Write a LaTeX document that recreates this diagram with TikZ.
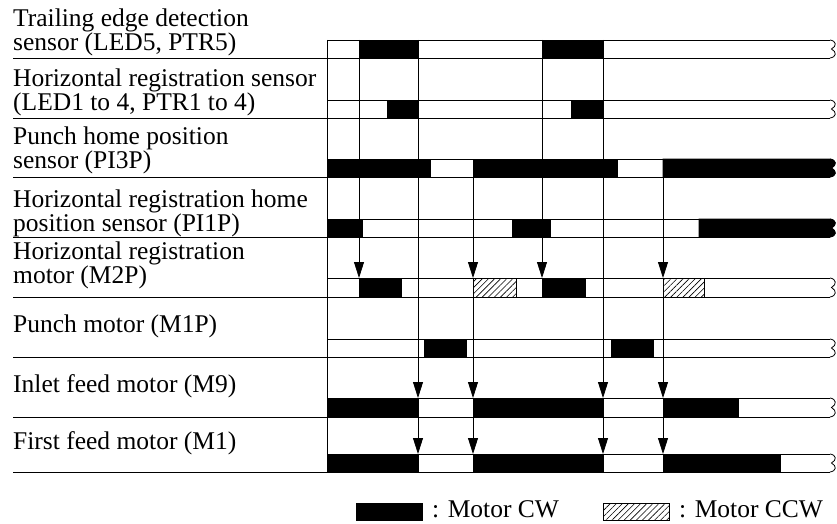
\documentclass[tikz,border=0pt]{standalone}
\usepackage{fontspec}
\setmainfont{Liberation Serif}
\usetikzlibrary{arrows.meta, patterns.meta}

% break mark at the right end of a band (top, bottom)
\newcommand{\bandbreak}[2]{(830,#1) .. controls (836.5,#1+1) and (837,{(#1+#2)/2-3}) .. (831.5,{(#1+#2)/2}) .. controls (837,{(#1+#2)/2+3}) and (836.5,#2-1) .. (830,#2)}

\tikzset{
    trace/.style={line width=0.8pt},
    cw/.style={fill=black, draw=black, line width=0.8pt},
    ccw/.style={draw=black, line width=0.8pt, pattern={Lines[angle=45, distance=4.3pt, line width=0.6pt]}},
    trig/.style={line width=0.8pt, -{Triangle[width=10pt, length=16pt]}},
    lbl/.style={anchor=south west, inner sep=0pt, text depth=0pt, align=left},
}

\begin{document}
\begin{tikzpicture}[x=1pt, y=-1pt, font=\fontsize{25.5}{24}\selectfont]
    \useasboundingbox (0,0) rectangle (837,524);

    % Signal names
    \node[lbl] (ledfive) at (13,50.5) {Trailing edge detection\\sensor (LED5, PTR5)};
    \node[lbl] (ledone) at (13,111) {Horizontal registration sensor\\(LED1 to 4, PTR1 to 4)};
    \node[lbl] (pithreep) at (13,168.5) {Punch home position\\sensor (PI3P)};
    \node[lbl] (pionep) at (13,231.5) {Horizontal registration home\\position sensor (PI1P)};
    \node[lbl] (mtwop) at (13,283.5) {Horizontal registration\\motor (M2P)};
    \node[lbl] (monep) at (13,333) {Punch motor (M1P)};
    \node[lbl] (mnine) at (13,392.5) {Inlet feed motor (M9)};
    \node[lbl] (mone) at (13,450) {First feed motor (M1)};

    % Bands
    \foreach \t/\b in {40/58, 100/118, 159/177, 219/237, 278/297, 339/357, 398/417, 454/472} {
        \draw[trace] (327,\t) -- (830,\t);
        \draw[trace] (13,\b) -- (830,\b);
    }
    \draw[trace] (327,40) -- (327,472);

    % CW pulses
    \foreach \t/\b/\xa/\xb in {40/58/359/418, 40/58/542/603,
        100/118/387/418, 100/118/571/603,
        159/177/327/430, 159/177/473/617,
        219/237/327/362, 219/237/512/550,
        278/297/359/401, 278/297/542/585,
        339/357/424/466, 339/357/611/653,
        398/417/327/418, 398/417/473/603, 398/417/663/738,
        454/472/327/418, 454/472/473/603, 454/472/663/780}
        \draw[cw] (\xa,\t) rectangle (\xb,\b);

    % Pulses running on past the break
    \fill[cw] (663,159) -- \bandbreak{159}{177} -- (663,177) -- cycle;
    \fill[cw] (699,219) -- \bandbreak{219}{237} -- (699,237) -- cycle;

    % CCW pulses
    \foreach \xa/\xb in {473/516, 663/704}
        \draw[ccw] (\xa,278) rectangle (\xb,297);

    % Break marks
    \foreach \t/\b in {40/58, 100/118, 159/177, 219/237, 278/297, 339/357, 398/417, 454/472}
        \draw[trace] \bandbreak{\t}{\b};

    % Trigger arrows
    \foreach \x/\ya/\yb in {359/40/278, 542/40/278,
        418/40/398, 418/398/454, 603/40/398, 603/398/454,
        473/159/278, 473/278/398, 473/398/454,
        663/159/278, 663/278/398, 663/398/454}
        \draw[trig] (\x,\ya) -- (\x,\yb);

    % Legend
    \fill[cw] (356,503) rectangle (422,520);
    \node[anchor=base west, inner sep=0pt] (cwtext) at (432,517) {: Motor CW};
    \draw[ccw] (603,503) rectangle (669,520);
    \node[anchor=base west, inner sep=0pt] (ccwtext) at (679,517) {: Motor CCW};

\end{tikzpicture}
\end{document}
